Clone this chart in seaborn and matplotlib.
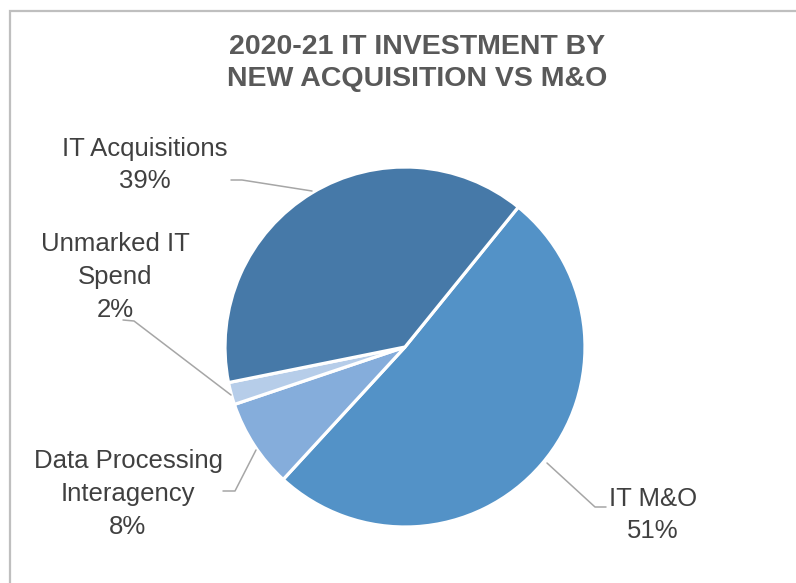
import matplotlib
matplotlib.use("Agg")
import matplotlib.pyplot as plt
import seaborn as sns
from matplotlib.patches import Rectangle

sns.set_theme(style="white")
plt.rcParams['font.family'] = ['Liberation Sans', 'DejaVu Sans']

# data
categories = ["IT M&O", "Data Processing\nInteragency", "Unmarked IT\nSpend", "IT Acquisitions"]
shares = [51, 8, 2, 39]
colors = ["#5392C7", "#85ADDB", "#B6CDE9", "#4679A8"]
title = "2020-21 IT INVESTMENT BY\nNEW ACQUISITION VS M&O"

W, H = 796, 583
fig = plt.figure(figsize=(W / 100, H / 100), dpi=100)
ax = fig.add_axes([0, 0, 1, 1])
ax.set_xlim(0, W)
ax.set_ylim(0, H)
ax.set_aspect("equal")
ax.axis("off")

cx, cy, r = 405, H - 347, 180
ax.pie(shares, colors=colors, startangle=51, counterclock=False,
       center=(cx, cy), radius=r,
       wedgeprops=dict(edgecolor="white", linewidth=2.3))
ax.set_xlim(0, W)
ax.set_ylim(0, H)

# outer frame
fig.patches.append(Rectangle((10 / W, -0.1), 1.2, 1 - 11 / H + 0.1,
                             transform=fig.transFigure, fill=False,
                             edgecolor="#BFBFBF", linewidth=1.6))

fig.text(417 / W, 1 - 63 / H, title, ha="center", va="center", fontsize=20.5,
         fontweight="bold", color="#595959", linespacing=1.3)

# label text + leader lines (pixel coords, y from top)
labels = [
    (653, 515, [(547, 463), (595, 507), (606, 507)]),
    (128, 494, [(256, 450), (235, 491), (223, 491)]),
    (115, 277, [(231, 395), (134, 321), (123, 320)]),
    (145, 165, [(312, 191), (242, 180), (231, 180)]),
]
tc = "#404040"
for (name, val), (tx, ty, pts) in zip(zip(categories, shares), labels):
    ax.text(tx, H - ty, "{}\n{}%".format(name, val), ha="center", va="center",
            fontsize=18.5, color=tc, linespacing=1.45)
    ax.plot([p[0] for p in pts], [H - p[1] for p in pts], color="#A6A6A6", lw=1.1)

fig.savefig("out.png", dpi=100)
